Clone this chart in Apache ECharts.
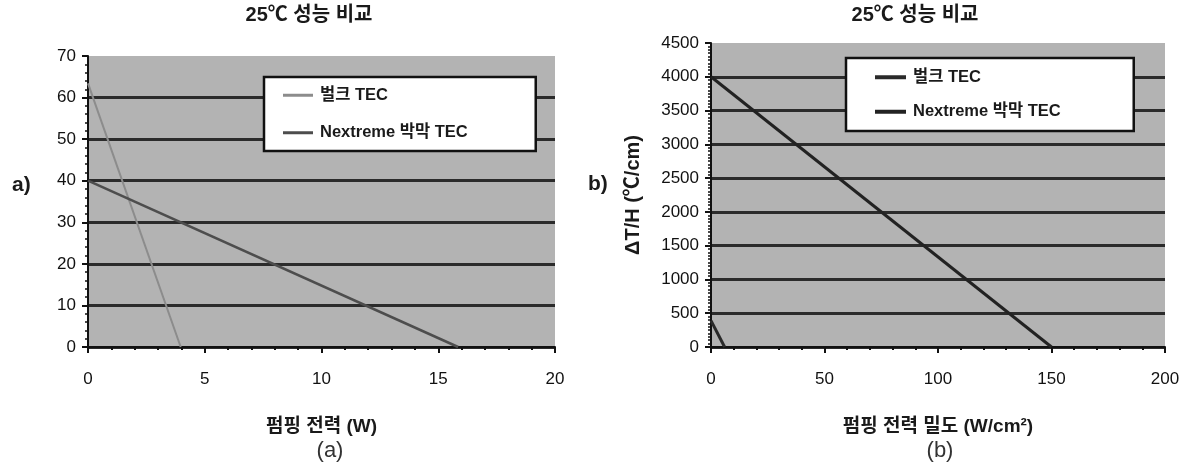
<!DOCTYPE html>
<html>
<head>
<meta charset="utf-8">
<script src="https://cdn.jsdelivr.net/npm/echarts@6/dist/echarts.min.js"></script>
<style>
html,body{margin:0;padding:0;background:#fff;}
#c{width:1188px;height:469px;}
</style>
</head>
<body>
<div id="c"></div>
<script>
// ---- data ----
var titleText = '25℃ 성능 비교';
var seriesNames = ['벌크 TEC', 'Nextreme 박막 TEC'];
// chart (a): pumping power (W) vs ΔT
var aBulk = [[0, 63.4], [3.97, 0]];
var aNextreme = [[0, 40], [15.85, 0]];
var aXName = '펌핑 전력 (W)';
// chart (b): pumping power density (W/cm²) vs ΔT/H
var bBulk = [[0, 390], [6, 0]];
var bNextreme = [[0, 4000], [150, 0]];
var bXName = '펌핑 전력 밀도 (W/cm²)';
var bYName = 'ΔT/H (℃/cm)';

var chart = echarts.init(document.getElementById('c'), null, {renderer: 'canvas'});
var NUMFONT = 'Liberation Sans, Arial, sans-serif';
var KFONT = '"Liberation Sans", "Noto Sans CJK KR", sans-serif';

function xAxis(gi, max, interval, name) {
  return {
    type: 'value', gridIndex: gi, min: 0, max: max, interval: interval,
    name: name, nameLocation: 'middle', nameGap: 70,
    nameTextStyle: {fontFamily: KFONT, fontWeight: 'bold', fontSize: 19, color: '#1a1a1a'},
    axisLine: {show: true, onZero: false, lineStyle: {color: '#111', width: 2}},
    axisTick: {show: true, length: 6, lineStyle: {color: '#111', width: 2}},
    minorTick: {show: true, splitNumber: 5, length: 3, lineStyle: {color: '#111', width: 2}},
    axisLabel: {fontFamily: NUMFONT, fontSize: 17, color: '#111', margin: 24,
                formatter: function (v) { return String(v); }},
    splitLine: {show: false}
  };
}
function yAxis(gi, max, interval, minorSplit, name) {
  var o = {
    type: 'value', gridIndex: gi, min: 0, max: max, interval: interval,
    axisLine: {show: true, onZero: false, lineStyle: {color: '#111', width: 2}},
    axisTick: {show: true, length: 6, lineStyle: {color: '#111', width: 2}},
    minorTick: {show: true, splitNumber: minorSplit, length: 3, lineStyle: {color: '#111', width: 1.5}},
    axisLabel: {fontFamily: NUMFONT, fontSize: 17, color: '#111', margin: 12,
                formatter: function (v) { return String(v); }},
    splitLine: {show: true, showMaxLine: false, lineStyle: {color: '#2b2b2b', width: 3}}
  };
  if (name) {
    o.name = name; o.nameLocation = 'middle'; o.nameGap = 68; o.nameRotate = 90;
    o.nameTextStyle = {fontFamily: KFONT, fontWeight: 'bold', fontSize: 20, color: '#1a1a1a'};
  }
  return o;
}
function legend(left, top, padding, gap, itemW, itemH, names) {
  return {
    orient: 'vertical', left: left, top: top, icon: 'rect',
    padding: padding, itemGap: gap, itemWidth: itemW, itemHeight: itemH,
    backgroundColor: '#fff', borderColor: '#111', borderWidth: 2.5, borderRadius: 0,
    data: names,
    formatter: function (n) { return n.trim(); },
    textStyle: {fontFamily: KFONT, fontWeight: 'bold', fontSize: 16.5, color: '#1a1a1a', padding: [0, 0, 0, 2]}
  };
}
function line(name, data, color, width, xi, yi) {
  return {
    type: 'line', name: name, data: data, xAxisIndex: xi, yAxisIndex: yi,
    symbol: 'none', showSymbol: false, animation: false, silent: true,
    lineStyle: {color: color, width: width}, itemStyle: {color: color}, z: 3
  };
}

var option = {
  animation: false,
  title: [
    {text: titleText, left: 304, top: 0, textAlign: 'center',
     textStyle: {fontFamily: KFONT, fontWeight: 'bold', fontSize: 20, color: '#1a1a1a'}},
    {text: titleText, left: 910, top: 0, textAlign: 'center',
     textStyle: {fontFamily: KFONT, fontWeight: 'bold', fontSize: 20, color: '#1a1a1a'}},
    {text: 'a)', left: 7, top: 170, textStyle: {fontFamily: NUMFONT, fontWeight: 'bold', fontSize: 21, color: '#1a1a1a'}},
    {text: 'b)', left: 583, top: 169, textStyle: {fontFamily: NUMFONT, fontWeight: 'bold', fontSize: 21, color: '#1a1a1a'}},
    {text: '(a)', left: 325, top: 435, textAlign: 'center',
     textStyle: {fontFamily: NUMFONT, fontWeight: 'normal', fontSize: 22, color: '#333'}},
    {text: '(b)', left: 935, top: 435, textAlign: 'center',
     textStyle: {fontFamily: NUMFONT, fontWeight: 'normal', fontSize: 22, color: '#333'}}
  ],
  grid: [
    {left: 88, top: 56, width: 467, height: 291, show: true, backgroundColor: '#b3b3b3', borderWidth: 0},
    {left: 711, top: 43, width: 454, height: 304, show: true, backgroundColor: '#b3b3b3', borderWidth: 0}
  ],
  xAxis: [xAxis(0, 20, 5, aXName), xAxis(1, 200, 50, bXName)],
  yAxis: [yAxis(0, 70, 10, 5), yAxis(1, 4500, 500, 10, bYName)],
  legend: [
    legend(264, 77, [10, 68, 10, 19], 21, 30, 3, [seriesNames[0], seriesNames[1]]),
    legend(846, 58, [11, 73, 11, 29], 18, 31, 4, [seriesNames[0] + ' ', seriesNames[1] + ' '])
  ],
  series: [
    line(seriesNames[0], aBulk, '#8c8c8c', 2, 0, 0),
    line(seriesNames[1], aNextreme, '#4d4d4d', 2.5, 0, 0),
    line(seriesNames[0] + ' ', bBulk, '#2a2a2a', 3, 1, 1),
    line(seriesNames[1] + ' ', bNextreme, '#222', 3, 1, 1)
  ]
};
chart.setOption(option);
</script>
</body>
</html>
